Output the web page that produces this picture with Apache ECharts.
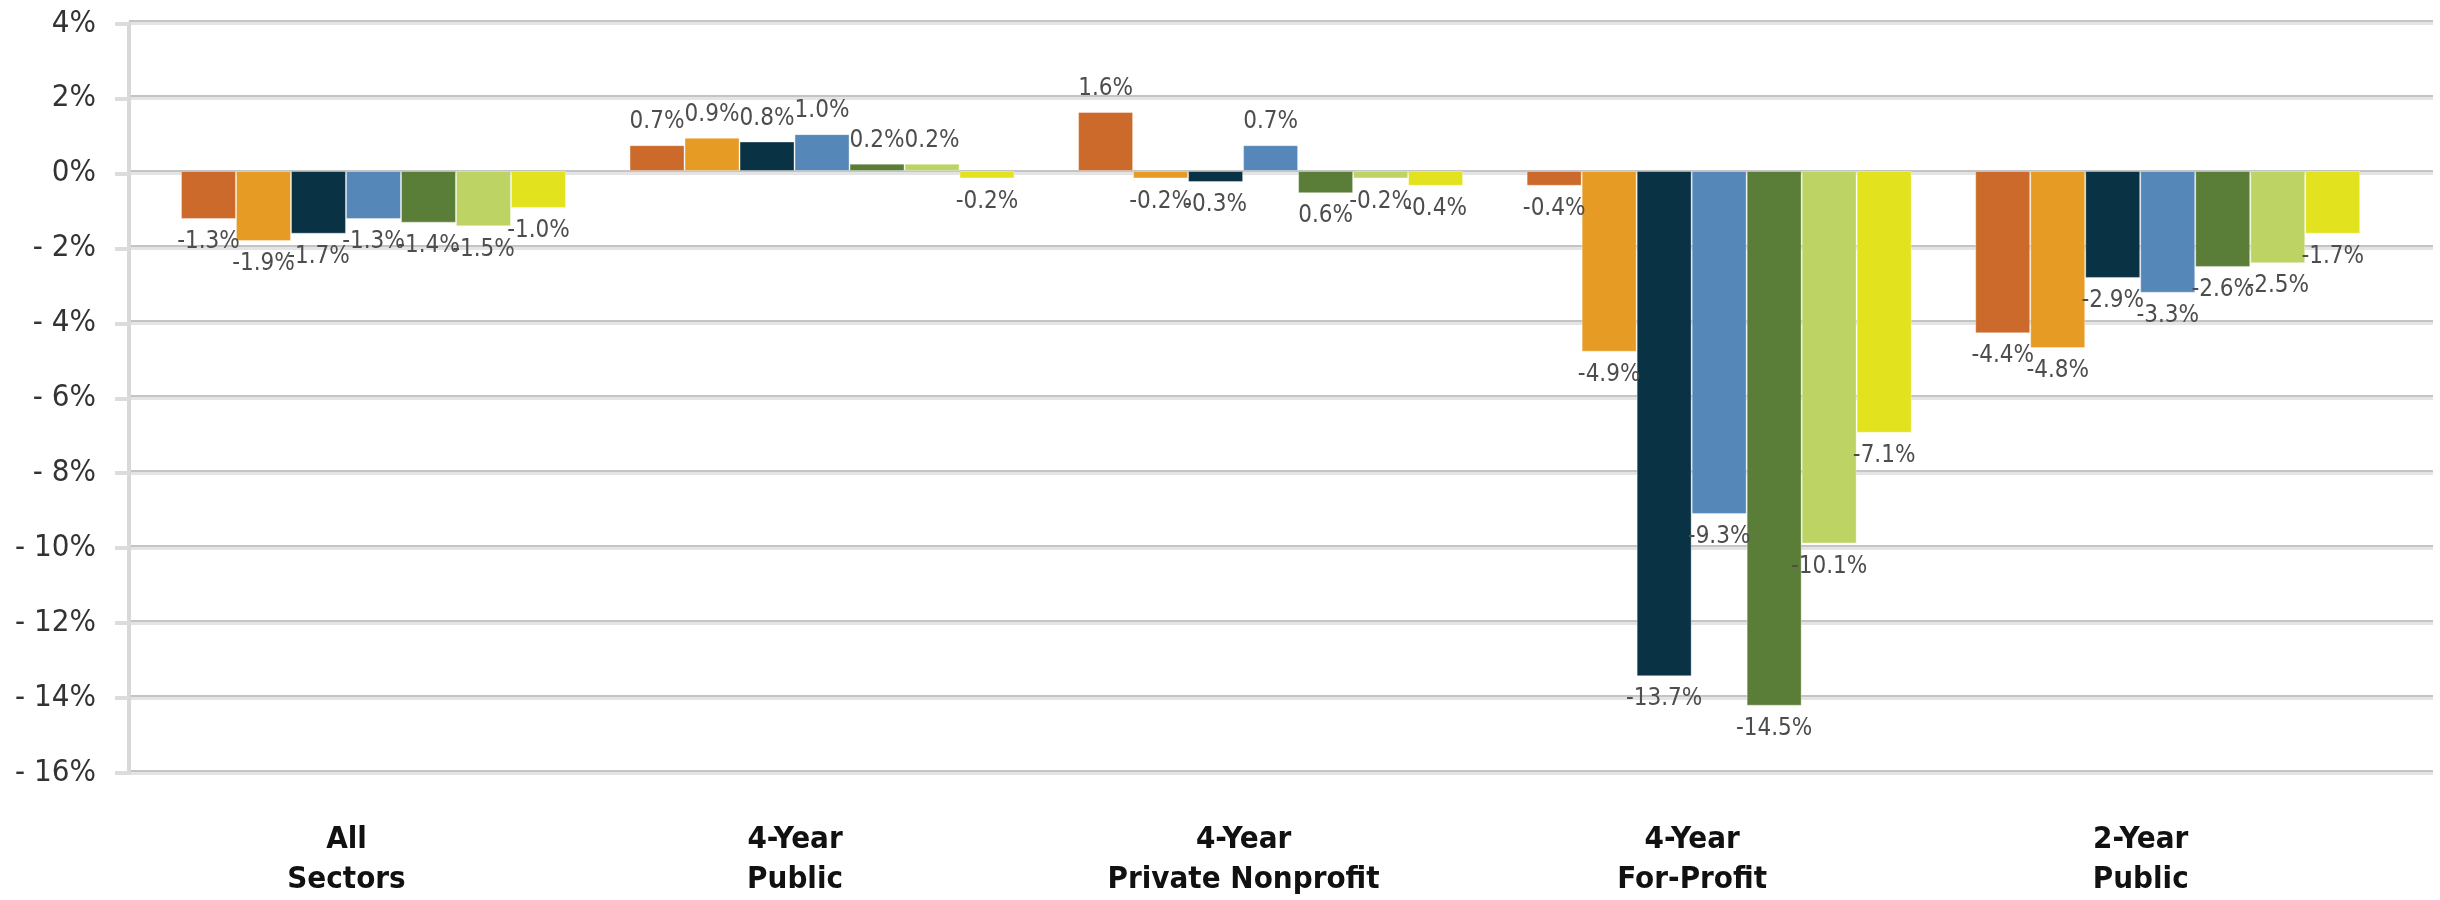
<!DOCTYPE html>
<html><head><meta charset="utf-8">
<script src="https://cdn.jsdelivr.net/npm/echarts@6/dist/echarts.min.js"></script>
<style>html,body{margin:0;padding:0;background:#fff}#c{width:2440px;height:900px}</style>
</head><body><div id="c"></div>
<script>
const categories = ['All\nSectors', '4-Year\nPublic', '4-Year\nPrivate Nonprofit', '4-Year\nFor-Profit', '2-Year\nPublic'];
const series1 = [-1.3, 0.7, 1.6, -0.4, -4.4];
const series2 = [-1.9, 0.9, -0.2, -4.9, -4.8];
const series3 = [-1.7, 0.8, -0.3, -13.7, -2.9];
const series4 = [-1.3, 1.0, 0.7, -9.3, -3.3];
const series5 = [-1.4, 0.2, -0.6, -14.5, -2.6];
const series6 = [-1.5, 0.2, -0.2, -10.1, -2.5];
const series7 = [-1.0, -0.2, -0.4, -7.1, -1.7];
// label text printed in the source where it differs from the value
const labelOverrides = { '4-2': '0.6%' };
const yTicks = { min: -16, max: 4, interval: 2 };
const colors = ['#CB6A2A', '#E69B25', '#0A3245', '#5588B8', '#5A7D37', '#BDD464', '#E2E31E'];

const allSeries = [series1, series2, series3, series4, series5, series6, series7];
const FONT = "'Liberation Sans Narrow', 'DejaVu Sans Condensed', 'Noto Sans', sans-serif";

const chart = echarts.init(document.getElementById('c'));
const bars = allSeries.map((vals, si) => ({
  name: 'Series ' + (si + 1),
  type: 'bar',
  xAxisIndex: 1,
  yAxisIndex: 1,
  barWidth: 55,
  barGap: '0%',
  itemStyle: { color: colors[si], borderColor: 'rgba(255,255,255,0.35)', borderWidth: 1 },
  label: {
    show: true,
    distance: 11,
    color: '#4d4d4d',
    fontFamily: FONT,
    fontSize: 24,
    formatter: p => labelOverrides[si + '-' + p.dataIndex] || (p.value.toFixed(1) + '%')
  },
  data: vals.map(v => ({ value: v, label: { position: v < 0 ? 'bottom' : 'top' } })),
  animation: false
}));

chart.setOption({
  animation: false,
  grid: [
    { left: 129, right: 7, top: 23.5, bottom: 127, containLabel: false },
    { left: 149.2, right: 2440 - 2392, top: 23.5, bottom: 127, containLabel: false }
  ],
  xAxis: [
    { gridIndex: 0, type: 'value', show: false, min: 0, max: 1 },
    {
      gridIndex: 1, type: 'category', data: categories,
      axisLine: { show: false }, axisTick: { show: false },
      axisLabel: {
        margin: 59, color: '#111', fontFamily: FONT, fontWeight: 'bold',
        fontSize: 31, lineHeight: 40, padding: [0, 54, 0, 0], interval: 0
      }
    }
  ],
  yAxis: [
    {
      gridIndex: 0, type: 'value', min: yTicks.min, max: yTicks.max, interval: yTicks.interval,
      axisLine: { show: true, lineStyle: { color: '#d8d8d8', width: 4 } },
      axisTick: { show: true, length: 14, lineStyle: { color: '#dcdcdc', width: 4 } },
      splitLine: { show: true, lineStyle: { color: '#e4e4e4', width: 3, shadowColor: '#c4c4c4', shadowOffsetY: -2, shadowBlur: 0 } },
      axisLabel: {
        margin: 33, color: '#333', fontFamily: FONT, fontSize: 31,
        formatter: v => v < 0 ? '- ' + (-v) + '%' : v + '%'
      }
    },
    {
      gridIndex: 1, type: 'value', min: yTicks.min, max: yTicks.max, interval: yTicks.interval,
      show: false, splitLine: { show: false }
    }
  ],
  series: bars
});
</script>
</body></html>
